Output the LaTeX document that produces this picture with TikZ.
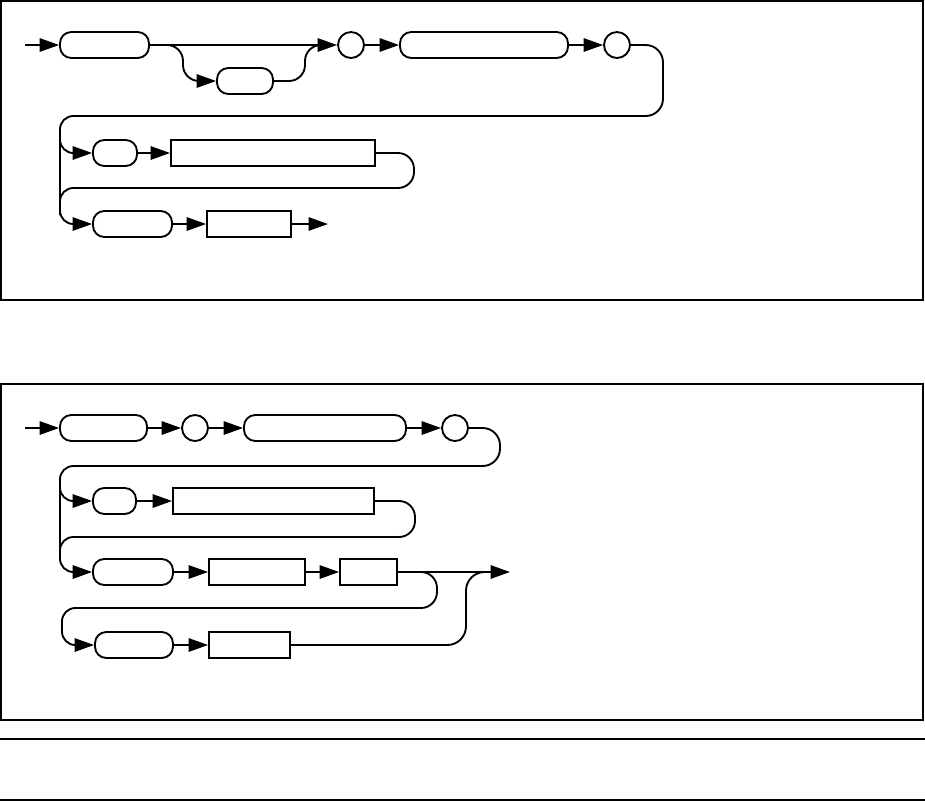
\documentclass[tikz,border=0pt]{standalone}
\usetikzlibrary{arrows.meta}
\begin{document}
\begin{tikzpicture}[x=0.75pt,y=-0.75pt,
  line width=1.4pt,
  frame/.style={line width=0.9pt},
  term/.style={draw, rounded corners=8.5pt, minimum height=19.5pt, inner sep=0pt},
  circ/.style={draw, circle, minimum size=19.5pt, inner sep=0pt},
  boxr/.style={draw, rectangle, minimum height=19.5pt, inner sep=0pt},
  arr/.style={-{Triangle[length=14.5pt,width=10pt]}}]
\useasboundingbox (0,0) rectangle (925,801);
% frames
\draw[frame] (1,1) rectangle (923,300);
\draw[frame] (1,384) rectangle (923,720);
\draw[frame] (0,739) -- (925,739);
\draw[frame] (0,800) -- (925,800);

% ---------- diagram 1 ----------
\coordinate (st1) at (25,45);
\node[term, minimum width=66.75pt] (s1) at (104.5,45) {};
\node[term, minimum width=42pt] (o1) at (245,81) {};
\node[circ] (c1) at (351,45) {};
\node[term, minimum width=126pt] (t2) at (484,45) {};
\node[circ] (c2) at (617,45) {};
\node[term, minimum width=33pt] (r2a) at (115,153) {};
\node[boxr, minimum width=153pt] (r2b) at (273,153) {};
\node[term, minimum width=59.25pt] (r3a) at (132.5,224) {};
\node[boxr, minimum width=63pt] (r3b) at (249,224) {};
\coordinate (e1) at (328,224);

\draw[arr] (st1) -- (s1.west);
\draw[arr] (s1.east) -- (c1.west);
\draw[arr, rounded corners=12pt] (s1.east) -| (183,81) -- (o1.west);
\draw[rounded corners=12pt] (o1.east) -| (305,45) -- (330,45);
\draw[arr] (c1.east) -- (t2.west);
\draw[arr] (t2.east) -- (c2.west);
\draw[rounded corners=13pt] (c2.east) -| (663,116) -- (300,116);
\draw[arr, rounded corners=10pt] (310,116) -| (60,153) -- (r2a.west);
\draw[arr] (r2a.east) -- (r2b.west);
\draw[rounded corners=12pt] (r2b.east) -| (414,188) -- (300,188);
\draw[rounded corners=10pt] (310,188) -| (60,215);
\draw[arr, rounded corners=10pt] (60,128) |- (r3a.west);
\draw[arr] (r3a.east) -- (r3b.west);
\draw[arr] (r3b.east) -- (e1);

% ---------- diagram 2 ----------
\coordinate (st2) at (25,428);
\node[term, minimum width=65.25pt] (u1) at (103.5,428) {};
\node[circ] (uc1) at (195,428) {};
\node[term, minimum width=121.5pt] (u2) at (325,428) {};
\node[circ] (uc2) at (455,428) {};
\node[term, minimum width=32.25pt] (v1) at (114.5,501) {};
\node[boxr, minimum width=150.75pt] (v2) at (273.5,501) {};
\node[term, minimum width=60pt] (w1) at (133,572) {};
\node[boxr, minimum width=72pt] (w2) at (257,572) {};
\node[boxr, minimum width=42.75pt] (w3) at (368.5,572) {};
\coordinate (e2) at (510,572);
\node[term, minimum width=58.5pt] (x1) at (134,645) {};
\node[boxr, minimum width=60.75pt] (x2) at (249.5,645) {};

\draw[arr] (st2) -- (u1.west);
\draw[arr] (u1.east) -- (uc1.west);
\draw[arr] (uc1.east) -- (u2.west);
\draw[arr] (u2.east) -- (uc2.west);
\draw[rounded corners=13pt] (uc2.east) -| (500,466) -- (300,466);
\draw[arr, rounded corners=10pt] (310,466) -| (60,501) -- (v1.west);
\draw[arr] (v1.east) -- (v2.west);
\draw[rounded corners=12pt] (v2.east) -| (415,537) -- (300,537);
\draw[rounded corners=10pt] (310,537) -| (60,560);
\draw[arr, rounded corners=10pt] (60,478) |- (w1.west);
\draw[arr] (w1.east) -- (w2.west);
\draw[arr] (w2.east) -- (w3.west);
\draw[arr] (w3.east) -- (e2);
\draw[rounded corners=12pt] (w3.east) -| (437,608) -- (300,608);
\draw[arr, rounded corners=10pt] (310,608) -| (62,645) -- (x1.west);
\draw[arr] (x1.east) -- (x2.west);
\draw[rounded corners=14pt] (x2.east) -| (466,572) -- (495,572);
\end{tikzpicture}
\end{document}
